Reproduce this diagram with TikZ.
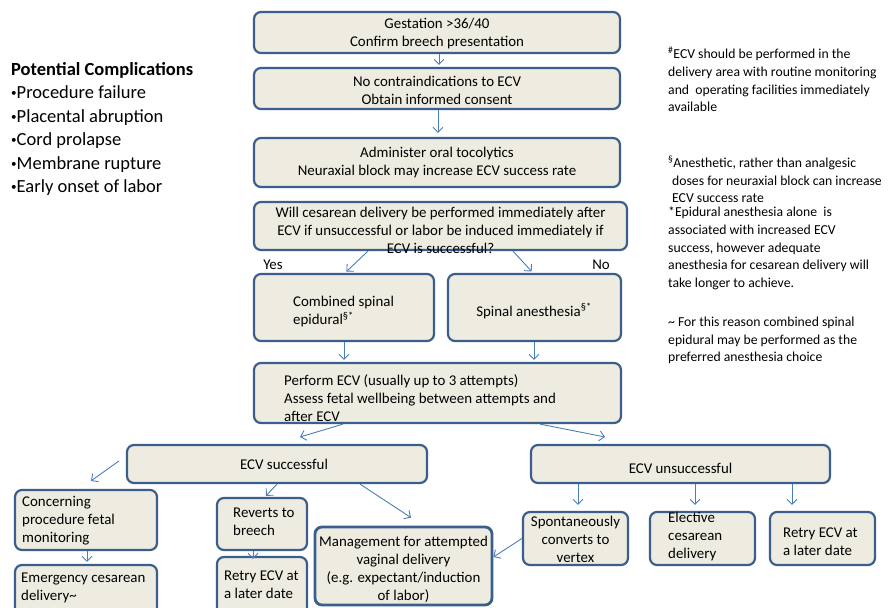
\documentclass[tikz,border=0pt]{standalone}
\usepackage{fontspec}
\setmainfont{Carlito}
\usetikzlibrary{arrows.meta,calc}
\definecolor{boxfill}{HTML}{EEECE1}
\definecolor{boxline}{HTML}{3B5F8C}
\definecolor{arrowblue}{HTML}{4A7EBB}
\newcommand{\smbul}{\raisebox{0.12em}{\scalebox{0.6}{•}}}
\begin{document}
\begin{tikzpicture}[x=1pt,y=-1pt,
 box/.style={draw=boxline, line width=2.2pt, fill=boxfill, rounded corners=7pt, inner sep=0pt},
 ftxt/.style={font=\fontsize{14.9}{18}\selectfont, inner sep=0pt, text=black},
 ntxt/.style={font=\fontsize{13.7}{17.6}\selectfont, inner sep=0pt, text=black, align=left, anchor=west},
 arr/.style={draw=arrowblue, line width=0.9pt, -{Straight Barb[length=5pt,width=10pt]}},
]
\useasboundingbox (0,0) rectangle (890,607);
\clip (0,0) rectangle (890,607);
\fill[white] (0,0) rectangle (890,607);

% boxes
\node[box, minimum width=366pt, minimum height=41pt] (b1) at (437,32.5) {};
\node[box, minimum width=366pt, minimum height=41pt] (b2) at (437,88.5) {};
\node[box, minimum width=366pt, minimum height=49pt] (b3) at (437,162.5) {};
\node[box, minimum width=373pt, minimum height=48pt] (b4) at (440.5,226) {};
\node[box, minimum width=180pt, minimum height=67pt] (b5) at (344,307.5) {};
\node[box, minimum width=173pt, minimum height=67pt] (b6) at (534.5,307.5) {};
\node[box, minimum width=367pt, minimum height=60pt] (b7) at (437.5,393) {};
\node[box, minimum width=300pt, minimum height=38pt] (b8) at (277,464) {};
\node[box, minimum width=299pt, minimum height=38pt] (b9) at (680.5,464) {};
\node[box, minimum width=142pt, minimum height=60pt] (b10) at (86,520) {};
\node[box, minimum width=142pt, minimum height=60pt] (b11) at (86,595) {};
\node[box, minimum width=90pt, minimum height=52pt] (b12) at (262,524) {};
\node[box, minimum width=90pt, minimum height=66pt] (b13) at (262,590) {};
\node[box, line width=2.8pt, minimum width=177pt, minimum height=78pt] (b14) at (403.5,566) {};
\node[box, minimum width=105pt, minimum height=53pt] (b15) at (575.5,538.5) {};
\node[box, minimum width=105pt, minimum height=53pt] (b16) at (702.5,538.5) {};
\node[box, minimum width=105pt, minimum height=53pt] (b17) at (822.5,538.5) {};

% box texts
\node[ftxt, align=center] (t1) at (437,34) {Gestation >36/40\\Confirm breech presentation};
\node[ftxt, align=center] (t2) at (437,90.5) {No contraindications to ECV\\Obtain informed consent};
\node[ftxt, align=center] (t3) at (437,163) {Administer oral tocolytics\\Neuraxial block may increase ECV success rate};
\node[ftxt, align=center] (t4) at (440.5,230) {Will cesarean delivery be performed immediately after\\ECV if unsuccessful or labor be induced immediately if\\ECV is successful?};
\node[ftxt, align=left, anchor=west] (t5) at (293,311.5) {Combined spinal\\epidural\textsuperscript{§*}};
\node[ftxt] (t6) at (534,311) {Spinal anesthesia\textsuperscript{§*}};
\node[ftxt, align=left, anchor=west] (t7) at (284,398) {Perform ECV (usually up to 3 attempts)\\Assess fetal wellbeing between attempts and\\after ECV};
\node[ftxt] (t8) at (284,464) {ECV successful};
\node[ftxt] (t9) at (680.5,468) {ECV unsuccessful};
\node[ftxt, align=left, anchor=west] (t10) at (22,521) {Concerning\\procedure fetal\\monitoring};
\node[ftxt, align=left, anchor=west] (t11) at (21,588) {Emergency cesarean\\delivery\textasciitilde};
\node[ftxt, align=left, anchor=west] (t12) at (233,521.5) {Reverts to\\breech};
\node[ftxt, align=left, anchor=west] (t13) at (224,585) {Retry ECV at\\a later date};
\node[ftxt, align=center] (t14) at (403.5,569.5) {Management for attempted\\vaginal delivery\\(e.g. expectant/induction\\of labor)};
\node[ftxt, align=center] (t15) at (575.5,539.5) {Spontaneously\\converts to\\vertex};
\node[ftxt, align=left, anchor=west] (t16) at (668,537) {Elective\\cesarean\\delivery};
\node[ftxt, align=left, anchor=west] (t17) at (783,542) {Retry ECV at\\a later date};

% yes / no
\node[ftxt] (yes) at (273,265) {Yes};
\node[ftxt] (no) at (601,265) {No};

% left list
\node[font=\fontsize{18.5}{23.5}\selectfont, inner sep=0pt, align=left, anchor=west] (comp) at (11,129)
 {\textbf{Potential Complications}\\\smbul Procedure failure\\\smbul Placental abruption\\\smbul Cord prolapse\\\smbul Membrane rupture\\\smbul Early onset of labor};

% right notes
\node[ntxt] (n1) at (668,79.5) {\textsuperscript{\#}ECV should be performed in the\\delivery area with routine monitoring\\and \ operating facilities immediately\\available};
\node[ntxt] (n2) at (668,179.5) {\textsuperscript{§}Anesthetic, rather than analgesic\\\hspace*{4pt}doses for neuraxial block can increase\\\hspace*{4pt}ECV success rate};
\node[ntxt] (n3) at (668,248.5) {*Epidural anesthesia alone \ is\\associated with increased ECV\\success, however adequate\\anesthesia for cesarean delivery will\\take longer to achieve.};
\node[ntxt] (n4) at (668,340.5) {\textasciitilde{} For this reason combined spinal\\epidural may be performed as the\\preferred anesthesia choice};

% connectors
\draw[arr, shorten >=2pt] ([xshift=2pt]b1.south) -- ([xshift=2pt]b2.north);
\draw[arr, shorten >=4pt] ([xshift=1pt]b2.south) -- ([xshift=1pt]b3.north);
\draw[arr, shorten >=2pt] ([xshift=-72.5pt]b4.south) -- ([xshift=1pt]b5.north);
\draw[arr, shorten >=2pt] ([xshift=72.5pt]b4.south) -- ([xshift=-1.5pt]b6.north);
\draw[arr, shorten >=2pt] (b5.south) -- (b5.south |- b7.north);
\draw[arr, shorten >=2pt] ([xshift=-0.5pt]b6.south) -- ([xshift=-0.5pt]b6.south |- b7.north);
\coordinate (c1) at (300,437);
\coordinate (c2) at (605,437);
\draw[arr] ([xshift=-94.5pt]b7.south) -- (c1);
\draw[arr] ([xshift=102.5pt]b7.south) -- (c2);
\coordinate (c3) at ([xshift=-7pt,yshift=3pt]b8.west);
\draw[arr] (c3) -- ([xshift=5pt,yshift=8pt]b10.north);
\draw[arr] (b8.south) -- ([xshift=4pt,yshift=1pt]b12.north);
\draw[arr] ([xshift=83pt]b8.south) -- ([xshift=7.5pt,yshift=8pt]b14.north);
\draw[arr, shorten >=6pt] ([xshift=-102.5pt]b9.south) -- ([xshift=-102.5pt]b9.south |- b15.north);
\draw[arr, shorten >=6pt] ([xshift=14.5pt]b9.south) -- ([xshift=14.5pt]b9.south |- b16.north);
\draw[arr, shorten >=6pt] ([xshift=111.5pt]b9.south) -- ([xshift=111.5pt]b9.south |- b17.north);
\draw[arr, shorten >=2pt] ([xshift=1pt]b10.south) -- ([xshift=1pt]b11.north);
\draw[arr] ([xshift=-9pt]b12.south) -- ([xshift=-9pt,yshift=-3pt]b13.north);
\draw[arr] (b15.west) -- ([yshift=9pt]b14.east);
\end{tikzpicture}
\end{document}
